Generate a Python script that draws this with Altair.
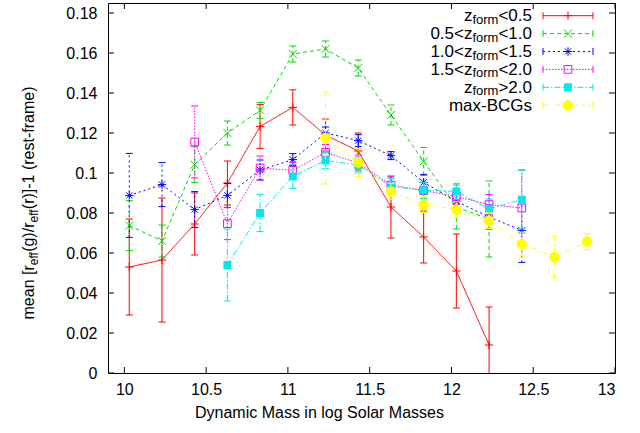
import altair as alt
import pandas as pd

# ---------------- data ----------------
mass = [10.03, 10.23, 10.43, 10.63, 10.83, 11.03, 11.23, 11.43, 11.63, 11.83, 12.03, 12.23, 12.43, 12.63, 12.83]

red_y = [0.053, 0.0565, 0.0745, 0.095, 0.1233, 0.1328, 0.119, 0.111, 0.083, 0.068, 0.051, 0.014]
red_err = [0.024, 0.031, 0.0155, 0.011, 0.011, 0.0088, 0.008, 0.009, 0.0155, 0.013, 0.0185, 0.019]
green_y = [0.0737, 0.066, 0.1042, 0.120, 0.1313, 0.1595, 0.162, 0.1525, 0.129, 0.1058, 0.083, 0.077]
green_err = [0.0125, 0.008, 0.009, 0.006, 0.004, 0.004, 0.004, 0.004, 0.005, 0.007, 0.011, 0.019]
blue_y = [0.0888, 0.0942, 0.0817, 0.0888, 0.1015, 0.1067, 0.120, 0.1162, 0.1087, 0.0953, 0.0858, 0.078, 0.0713]
blue_err = [0.021, 0.011, 0.009, 0.006, 0.005, 0.003, 0.003, 0.003, 0.002, 0.004, 0.004, 0.006, 0.016]
mag_y = [0.1155, 0.0747, 0.1025, 0.1013, 0.1103, 0.105, 0.094, 0.0912, 0.0883, 0.0842, 0.0825]
mag_err = [0.018, 0.008, 0.006, 0.004, 0.004, 0.004, 0.004, 0.004, 0.004, 0.005, 0.019]
cyan_y = [0.054, 0.080, 0.0983, 0.1063, 0.104, 0.0933, 0.0913, 0.0908, 0.082, 0.0867]
cyan_err = [0.018, 0.0093, 0.006, 0.004, 0.004, 0.004, 0.004, 0.004, 0.005, 0.0146]
bcg_y = [0.1175, 0.1053, 0.0908, 0.0842, 0.0817, 0.0762, 0.0645, 0.058, 0.0658]
bcg_err = [0.023, 0.007, 0.004, 0.004, 0.004, 0.004, 0.006, 0.0105, 0.004]

start_index = [0, 0, 0, 2, 3, 6]
series_y = [red_y, green_y, blue_y, mag_y, cyan_y, bcg_y]
series_err = [red_err, green_err, blue_err, mag_err, cyan_err, bcg_err]

legend_prefix = ["z", "0.5<z", "1.0<z", "1.5<z", "z", "max-BCGs"]
legend_sub = ["form", "form", "form", "form", "form", ""]
legend_suffix = ["<0.5", "<1.0", "<1.5", "<2.0", ">2.0", ""]

x_ticks = [10, 10.5, 11, 11.5, 12, 12.5, 13]
y_ticks = [0, 0.02, 0.04, 0.06, 0.08, 0.1, 0.12, 0.14, 0.16, 0.18]

x_title = "Dynamic Mass in log Solar Masses"
y_title_parts = ["mean [r", "eff", "(g)/r", "eff", "(r)]-1 (rest-frame)"]

# ---------------- styles ----------------
FONT = "Liberation Sans"
W, H = 507, 370
FS = 16
SUBFS = 12
LFS = 17
LSUBFS = 13

colors = ["#ff0000", "#00dd00", "#0000ff", "#ff00ff", "#00e8e8", "#ffff00"]
dashes = [[1, 0], [4, 3], [2, 3], [1.5, 1.5], [6, 2, 1.5, 2], [5, 3, 1.5, 3]]
PLUS = "M-1,0L1,0M0,-1L0,1"
CROSS = "M-1,-1L1,1M-1,1L1,-1"
STAR = "M-1,0L1,0M0,-1L0,1M-0.75,-0.75L0.75,0.75M-0.75,0.75L0.75,-0.75"
shapes = [PLUS, CROSS, STAR, "square", "square", "circle"]
filled = [False, False, False, False, True, True]
sizes = [70, 64, 70, 60, 64, 110]

AW = {c: 556 for c in "0123456789"}
AW.update({'.': 278, '<': 584, '>': 584, 'z': 500, 'f': 278, 'o': 556, 'r': 333,
           'm': 833, 'e': 556, 'a': 556, 'n': 556, ' ': 278, '[': 278, ']': 278,
           '(': 333, ')': 333, 'g': 556, '/': 278, '-': 333, 's': 500, 't': 278,
           'x': 500, 'B': 667, 'C': 722, 'G': 778})


def tw(s, size):
    return sum(AW.get(c, 556) for c in s) * size / 1000.0


xs = alt.Scale(domain=[9.9, 13], nice=False, zero=False)
ys = alt.Scale(domain=[0, 0.185], nice=False, zero=False)

layers = []

# axes (labels only) + invisible anchor
base_df = pd.DataFrame({"x": [x_ticks[0]], "y": [y_ticks[0]]})
axis_layer = alt.Chart(base_df).mark_point(opacity=0).encode(
    x=alt.X("x:Q", scale=xs,
            axis=alt.Axis(values=x_ticks, format="~g", grid=False, domain=False,
                          ticks=False, labelPadding=8, labelFont=FONT, labelFontSize=FS,
                          labelColor="black", title=x_title, titleFont=FONT,
                          titleFontSize=FS, titleFontWeight="normal", titleColor="black",
                          titlePadding=7, titleX=211, titleAlign="center",
                          titleAnchor="start")),
    y=alt.Y("y:Q", scale=ys,
            axis=alt.Axis(values=y_ticks, format="~g", grid=False, domain=False,
                          ticks=False, labelPadding=11, labelFont=FONT, labelFontSize=FS,
                          labelColor="black", title=None)),
)
layers.append(axis_layer)

# inward ticks on all four sides
TL = 6
xt = pd.DataFrame({"t": x_ticks})
yt = pd.DataFrame({"t": y_ticks})
layers.append(alt.Chart(xt).mark_rule(color="black", strokeWidth=1).encode(
    x=alt.X("t:Q", scale=xs), y=alt.value(H), y2=alt.value(H - TL)))
layers.append(alt.Chart(xt).mark_rule(color="black", strokeWidth=1).encode(
    x=alt.X("t:Q", scale=xs), y=alt.value(0), y2=alt.value(TL)))
layers.append(alt.Chart(yt).mark_rule(color="black", strokeWidth=1).encode(
    y=alt.Y("t:Q", scale=ys), x=alt.value(0), x2=alt.value(TL)))
layers.append(alt.Chart(yt).mark_rule(color="black", strokeWidth=1).encode(
    y=alt.Y("t:Q", scale=ys), x=alt.value(W), x2=alt.value(W - TL)))

# legend geometry (pixels in plot coordinates)
LEG_TEXT_R = 424
LEG_X1, LEG_X2, LEG_SYM = 435, 485, 460
LEG_Y0, LEG_DY = 12.7, 17.9

for i in range(6):
    ys_i = series_y[i]
    er_i = series_err[i]
    st = start_index[i]
    df = pd.DataFrame({
        "x": mass[st:st + len(ys_i)],
        "y": ys_i,
        "lo": [a - b for a, b in zip(ys_i, er_i)],
        "hi": [a + b for a, b in zip(ys_i, er_i)],
    })
    c = colors[i]
    d = dashes[i]
    X = alt.X("x:Q", scale=xs)
    layers.append(alt.Chart(df).mark_line(color=c, strokeWidth=1, strokeDash=d, clip=True).encode(
        x=X, y=alt.Y("y:Q", scale=ys)))
    layers.append(alt.Chart(df).mark_rule(color=c, strokeWidth=1, strokeDash=d, clip=True).encode(
        x=X, y=alt.Y("lo:Q", scale=ys), y2="hi:Q"))
    for col in ["lo", "hi"]:
        layers.append(alt.Chart(df).mark_tick(color=c, orient="horizontal", size=7,
                                              thickness=1, opacity=1, clip=True).encode(
            x=X, y=alt.Y(col + ":Q", scale=ys)))
    layers.append(alt.Chart(df).mark_point(shape=shapes[i], filled=filled[i], size=sizes[i],
                                           color=c, strokeWidth=1, opacity=1).encode(
        x=X, y=alt.Y("y:Q", scale=ys)))

    # legend entry
    ly = LEG_Y0 + LEG_DY * i
    ldf = pd.DataFrame({"x1": [LEG_X1], "x2": [LEG_X2], "xs": [LEG_SYM], "y": [ly]})
    layers.append(alt.Chart(ldf).mark_rule(color=c, strokeWidth=1, strokeDash=d).encode(
        x=alt.X("x1:Q", scale=None), x2="x2:Q", y=alt.Y("y:Q", scale=None)))
    for col in ["x1", "x2"]:
        layers.append(alt.Chart(ldf).mark_tick(color=c, orient="vertical", size=7,
                                               thickness=1, opacity=1).encode(
            x=alt.X(col + ":Q", scale=None), y=alt.Y("y:Q", scale=None)))
    layers.append(alt.Chart(ldf).mark_point(shape=shapes[i], filled=filled[i], size=sizes[i],
                                            color=c, strokeWidth=1, opacity=1).encode(
        x=alt.X("xs:Q", scale=None), y=alt.Y("y:Q", scale=None)))

# legend texts
rows = []
for i in range(6):
    ly = LEG_Y0 + LEG_DY * i
    r = LEG_TEXT_R
    if legend_suffix[i]:
        rows.append({"t": legend_suffix[i], "x": r, "y": ly + 5.5, "s": LFS})
        r -= tw(legend_suffix[i], LFS)
    if legend_sub[i]:
        rows.append({"t": legend_sub[i], "x": r, "y": ly + 8.0, "s": LSUBFS})
        r -= tw(legend_sub[i], LSUBFS)
    rows.append({"t": legend_prefix[i], "x": r, "y": ly + 5.5, "s": LFS})
ltxt = pd.DataFrame(rows)
for s in [LFS, LSUBFS]:
    layers.append(alt.Chart(ltxt[ltxt["s"] == s]).mark_text(
        align="right", baseline="alphabetic", font=FONT, fontSize=s, color="black").encode(
        x=alt.X("x:Q", scale=None), y=alt.Y("y:Q", scale=None), text="t:N"))

# y-axis title with subscripts (rotated)
parts = []
widths = [tw(p, SUBFS if k % 2 else FS) for k, p in enumerate(y_title_parts)]
total = sum(widths)
cy = H / 2 + 15
ypos = cy + total / 2
BASE_X = -74
for k, p in enumerate(y_title_parts):
    sub = k % 2 == 1
    parts.append({"t": p, "x": BASE_X + (4 if sub else 0), "y": ypos, "s": SUBFS if sub else FS})
    ypos -= widths[k]
ytdf = pd.DataFrame(parts)
for s in [FS, SUBFS]:
    layers.append(alt.Chart(ytdf[ytdf["s"] == s]).mark_text(
        align="left", baseline="alphabetic", angle=270, font=FONT, fontSize=s, color="black").encode(
        x=alt.X("x:Q", scale=None), y=alt.Y("y:Q", scale=None), text="t:N"))

chart = alt.layer(*layers).properties(
    width=W, height=H,
    autosize=alt.AutoSizeParams(type="none"),
    padding={"left": 108, "top": 3, "right": 25, "bottom": 60},
    background="white",
).configure_view(stroke="black", strokeWidth=1)

chart.save("out.html", embed_options={"renderer": "svg", "actions": False})
